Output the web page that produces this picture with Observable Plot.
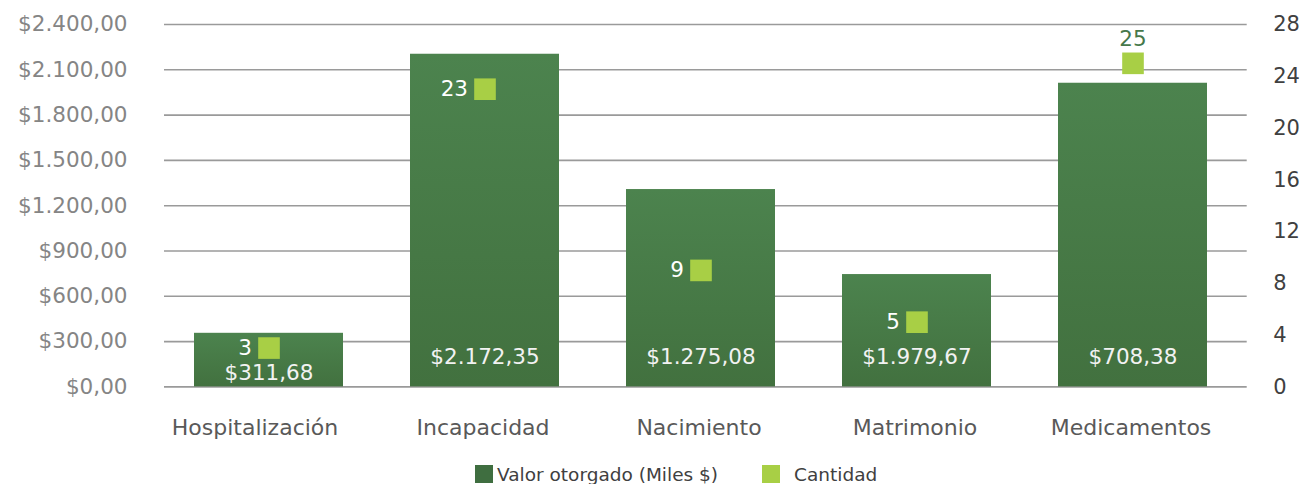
<!DOCTYPE html>
<html><head><meta charset="utf-8">
<script src="https://cdn.jsdelivr.net/npm/d3@7"></script>
<script src="https://cdn.jsdelivr.net/npm/@observablehq/plot@0.6"></script>
<style>
body{margin:0;background:#fff;font-family:"DejaVu Sans",sans-serif;}
#legend{display:flex;align-items:center;height:20px;margin-top:9px;padding-left:475px;font-size:18.5px;color:#404040;white-space:nowrap;}
.sw{width:18px;height:18px;display:inline-block;}
</style></head><body>
<div id="chart"></div>
<div id="legend">
  <span class="sw" style="background:#3f6e40"></span><span style="margin-left:4px">Valor otorgado (Miles $)</span>
  <span class="sw" style="background:#a8cf45;margin-left:44px"></span><span style="margin-left:14px">Cantidad</span>
</div>
<script>
const categories = ["Hospitalización", "Incapacidad", "Nacimiento", "Matrimonio", "Medicamentos"];
const barValues = [355, 2203, 1307, 744, 2011];
const valueLabels = [311.68, 2172.35, 1275.08, 1979.67, 708.38];
const counts = [3, 23, 9, 5, 25];
const leftTicks = [0, 300, 600, 900, 1200, 1500, 1800, 2100, 2400];
const rightTicks = [0, 4, 8, 12, 16, 20, 24, 28];

const leftMax = 2400, rightMax = 28;
const toLeft = v => v * leftMax / rightMax;
const locale = d3.formatLocale({decimal: ",", thousands: ".", grouping: [3], currency: ["$", ""]});
const money = locale.format("$,.2f");

const data = categories.map((c, i) => ({cat: c, value: barValues[i], label: valueLabels[i], count: counts[i], i}));

const plot = Plot.plot({
  width: 1306,
  height: 455,
  marginTop: 24,
  marginBottom: 68.6,
  marginLeft: 164,
  marginRight: 59.3,
  style: {fontFamily: "DejaVu Sans, sans-serif", background: "#fff"},
  x: {domain: categories, range: [158.7, 1241.7], paddingInner: 0.31, paddingOuter: 0.155},
  y: {domain: [0, leftMax]},
  marks: [
    Plot.gridY(leftTicks, {stroke: "#9a9a9a", strokeOpacity: 1, strokeWidth: 1.6}),
    Plot.barY(data, {x: "cat", y: "value", fill: "url(#barGrad)"}),
    Plot.axisY(leftTicks, {anchor: "left", tickSize: 0, tickPadding: 37, tickFormat: money, fontSize: 21.5, fill: "#858585", label: null}),
    Plot.axisY(rightTicks.map(toLeft), {anchor: "right", tickSize: 0, tickPadding: 26, tickFormat: d => String(Math.round(d * rightMax / leftMax)), fontSize: 21, fill: "#404040", label: null, textAnchor: "start"}),
    Plot.axisX(categories.slice(0, 1), {tickSize: 0, tickPadding: 32, dx: -14, fontSize: 22, fill: "#595959", label: null}),
    Plot.axisX(categories.slice(1), {tickSize: 0, tickPadding: 32, dx: -2, fontSize: 22, fill: "#595959", label: null}),
    Plot.text(data.filter(d => d.i !== 0), {x: "cat", y: 0, text: d => money(d.label), dy: -30, fill: "#f2f2f2", fontSize: 21.5}),
    Plot.text(data.filter(d => d.i === 0), {x: "cat", y: 0, text: d => money(d.label), dy: -14, fill: "#f2f2f2", fontSize: 21.5}),
    Plot.dot(data, {x: "cat", y: d => toLeft(d.count), symbol: "square", r: 12.2, fill: "#a8cf45", stroke: null}),
    Plot.text(data.filter(d => d.i !== categories.length - 1), {x: "cat", y: d => toLeft(d.count), text: d => String(d.count), textAnchor: "end", dx: -17, fill: "#ffffff", fontSize: 21.5}),
    Plot.text(data.filter(d => d.i === categories.length - 1), {x: "cat", y: d => toLeft(d.count), text: d => String(d.count), dy: -24, fill: "#46784a", fontSize: 21.5, fontWeight: 500})
  ]
});

const defs = d3.select(plot).insert("defs", ":first-child");
const g = defs.append("linearGradient").attr("id", "barGrad").attr("x1", 0).attr("y1", 0).attr("x2", 0).attr("y2", 1);
g.append("stop").attr("offset", "0%").attr("stop-color", "#4c834e");
g.append("stop").attr("offset", "100%").attr("stop-color", "#42713f");

document.getElementById("chart").appendChild(plot);
</script>
</body></html>
